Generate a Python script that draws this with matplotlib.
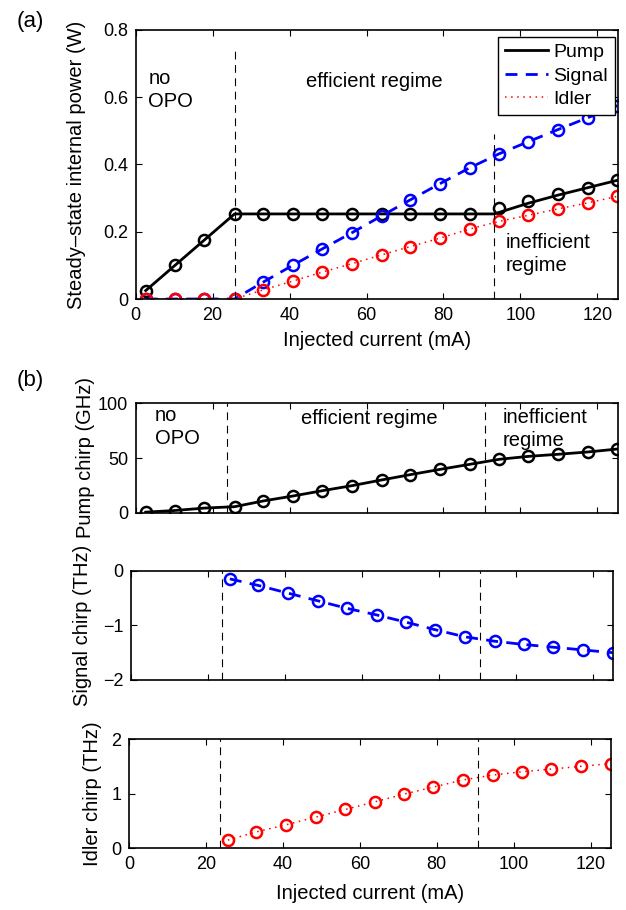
import matplotlib
matplotlib.use("Agg")
import matplotlib.pyplot as plt
from matplotlib.lines import Line2D

plt.rcParams['font.family'] = ['Liberation Sans', 'DejaVu Sans']
plt.rcParams['font.size'] = 14.5
plt.rcParams['xtick.labelsize'] = 13
plt.rcParams['ytick.labelsize'] = 13

# injected current sample points (mA)
current = [2.6, 10.1, 17.8, 25.7, 33.1, 40.8, 48.5, 56.2, 63.9,
           71.4, 79.1, 86.8, 94.5, 102.1, 109.8, 117.5, 125.2]

# (a) steady-state internal power (W)
pump_power = [0.025, 0.100, 0.176, 0.253, 0.253, 0.253, 0.253, 0.253, 0.253,
              0.253, 0.253, 0.253, 0.271, 0.290, 0.312, 0.331, 0.353]
signal_power = [0, 0, 0, 0, 0.050, 0.100, 0.149, 0.197, 0.247,
                0.295, 0.343, 0.390, 0.432, 0.468, 0.504, 0.539, 0.575]
idler_power = [0, 0, 0, 0, 0.027, 0.053, 0.080, 0.105, 0.131,
               0.156, 0.181, 0.208, 0.231, 0.249, 0.268, 0.286, 0.305]
# pump line (drawn separately, kinks at the thresholds)
pump_line_x = [2.6, 25.7, 93.2, 102.1, 109.8, 117.5, 125.2]
pump_line_y = [0.025, 0.253, 0.253, 0.285, 0.309, 0.331, 0.353]
thr_a = [25.7, 93.2]

# (b) chirps
pump_chirp = [0.5, 2.0, 4.2, 5.5, 10.7, 15.2, 20.1, 24.7, 29.9,
              34.8, 39.6, 44.2, 48.8, 51.5, 53.4, 55.5, 58.2]
signal_chirp = [-0.15, -0.27, -0.41, -0.55, -0.69, -0.81, -0.94,
                -1.08, -1.21, -1.29, -1.35, -1.40, -1.45, -1.50]
idler_chirp = [0.15, 0.30, 0.43, 0.57, 0.71, 0.85, 0.99,
               1.12, 1.25, 1.34, 1.40, 1.45, 1.50, 1.55]
thr_b = [23.7, 90.7]

W, H = 626, 910
fig = plt.figure(figsize=(W / 100, H / 100), dpi=100)

def make_ax(left, top, bottom, width=482):
    ax = fig.add_axes([left / W, 1 - bottom / H, width / W, (bottom - top) / H])
    ax.tick_params(direction='in', top=True, right=True, length=4, width=0.8, pad=5.5)
    for s in ax.spines.values():
        s.set_linewidth(1.2)
    ax.set_xlim(0, 125.3)
    ax.set_xticks(range(0, 121, 20))
    return ax

mk = dict(marker='o', mfc='none', ms=8, mew=1.8)
vdash = dict(color='black', lw=0.8, dashes=(7, 5))
solid = dict(color='black', lw=2.0)
dashed = dict(color='blue', lw=2.0, dashes=(4.3, 3))
dotted = dict(color='red', lw=1.1, dashes=(1, 3))

# ---- (a)
ax = make_ax(135.7, 30, 299)
ax.plot(pump_line_x, pump_line_y, **solid)
ax.plot(current, pump_power, ls='none', color='black', **mk)
ax.plot(current, signal_power, **dashed, **mk)
ax.plot(current, idler_power, **dotted, **mk)
ax.plot([thr_a[0]] * 2, [0, 0.75], **vdash)
ax.plot([thr_a[1]] * 2, [0, 0.49], **vdash)
ax.set_ylim(0, 0.8)
ax.set_yticks([0, 0.2, 0.4, 0.6, 0.8])
ax.set_yticklabels(['0', '0.2', '0.4', '0.6', '0.8'])
ax.set_xlabel('Injected current (mA)', labelpad=5)
ax.set_ylabel('Steady\u2013state internal power (W)', labelpad=12)
ax.text(3.3, 0.621, 'no\nOPO', ha='left', va='center', linespacing=1.25)
ax.text(61.9, 0.646, 'efficient regime', ha='center', va='center')
ax.text(96.1, 0.134, 'inefficient\nregime', ha='left', va='center', linespacing=1.25)
handles = [Line2D([], [], **solid), Line2D([], [], **dashed), Line2D([], [], **dotted)]
leg = ax.legend(handles, ['Pump', 'Signal', 'Idler'], loc='upper right',
                bbox_to_anchor=(0.994, 0.975), fancybox=False, framealpha=1,
                edgecolor='black', handlelength=2.2, handletextpad=0.3,
                labelspacing=0.3, borderpad=0.35, borderaxespad=0, fontsize=14)
leg.get_frame().set_linewidth(1.0)
fig.text(30 / W, 1 - 22 / H, '(a)', ha='center', va='center', fontsize=16)

# ---- (b) pump chirp
ax = make_ax(135.7, 403.3, 512.7)
ax.plot(current, pump_chirp, **solid, **mk)
for t in thr_b:
    ax.axvline(t, **vdash)
ax.set_ylim(0, 100)
ax.set_yticks([0, 50, 100])
ax.set_xticklabels([])
ax.set_ylabel('Pump chirp (GHz)', labelpad=2)
ax.text(5.0, 78.2, 'no\nOPO', ha='left', va='center', linespacing=1.25)
ax.text(60.7, 86.3, 'efficient regime', ha='center', va='center')
ax.text(95.4, 76.5, 'inefficient\nregime', ha='left', va='center', linespacing=1.25)
fig.text(30 / W, 1 - 380 / H, '(b)', ha='center', va='center', fontsize=16)

# ---- signal chirp
ax = make_ax(131, 570.7, 680)
ax.plot(current[3:], signal_chirp, **dashed, **mk)
for t in thr_b:
    ax.axvline(t, **vdash)
ax.set_ylim(-2, 0)
ax.set_yticks([-2, -1, 0])
ax.set_xticklabels([])
ax.set_ylabel('Signal chirp (THz)', labelpad=8)

# ---- idler chirp
ax = make_ax(129, 739, 848.3)
ax.plot(current[3:], idler_chirp, **dotted, **mk)
for t in thr_b:
    ax.axvline(t, **vdash)
ax.set_ylim(0, 2)
ax.set_yticks([0, 1, 2])
ax.set_xlabel('Injected current (mA)', labelpad=8)
ax.set_ylabel('Idler chirp (THz)', labelpad=7)

fig.savefig('out.png', dpi=100)
plt.close(fig)
